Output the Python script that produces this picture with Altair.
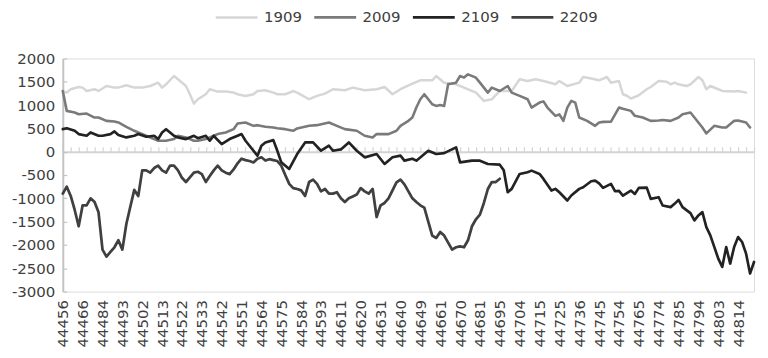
import altair as alt
import pandas as pd

FONT = "DejaVu Sans"
TXT = "#404040"

series_names = ["1909", "2009", "2109", "2209"]
series_colors = ["#d6d6d6", "#7a7a7a", "#222222", "#404040"]
series_widths = [2.5, 2.75, 2.75, 4.5]

x_labels = ["44456", "44466", "44484", "44493", "44502", "44513", "44522", "44533",
            "44542", "44551", "44564", "44575", "44584", "44593", "44611", "44620",
            "44631", "44640", "44649", "44661", "44670", "44681", "44695", "44704",
            "44715", "44725", "44736", "44745", "44754", "44765", "44774", "44785",
            "44794", "44803", "44814"]

x1909 = [0, 1, 2, 4, 5, 6, 8, 9, 11, 13, 14, 16, 18, 20, 22, 24, 25, 26, 28, 29,
         31, 32, 33, 34, 36, 37, 39, 41, 43, 44, 46, 48, 49, 51, 53, 54, 56, 58, 59, 62,
         64, 66, 68, 71, 73, 76, 79, 81, 83, 85, 88, 90, 93, 94, 96, 99, 101, 104, 106, 108,
         110, 113, 115, 117, 119, 121, 124, 125, 127, 130, 131, 133, 135, 137, 138, 140, 141, 142, 143, 145,
         147, 148, 150, 152, 153, 154, 155, 157, 158, 160, 161, 162, 163, 165, 166, 169, 170, 172]
v1909 = [1303, 1268, 1340, 1389, 1375, 1303, 1340, 1303, 1410, 1375, 1375, 1425, 1375, 1375, 1410, 1481, 1375, 1446, 1624, 1553,
         1410, 1233, 1032, 1125, 1233, 1340, 1290, 1290, 1268, 1233, 1197, 1233, 1303, 1318, 1268, 1233, 1233, 1300, 1268, 1126,
         1197, 1247, 1340, 1318, 1375, 1318, 1340, 1389, 1233, 1340, 1460, 1531, 1531, 1624, 1481, 1446, 1375, 1268, 1090, 1125,
         1303, 1303, 1553, 1517, 1553, 1517, 1446, 1517, 1410, 1481, 1603, 1570, 1532, 1603, 1481, 1517, 1233, 1200, 1140, 1211,
         1340, 1389, 1517, 1500, 1446, 1481, 1446, 1410, 1446, 1603, 1532, 1340, 1410, 1340, 1303, 1290, 1303, 1268]

x2009 = [0, 1, 3, 4, 6, 8, 9, 11, 13, 14, 16, 18, 19, 21, 23, 24, 26, 28, 29, 31,
         33, 34, 36, 38, 39, 41, 43, 44, 46, 48, 49, 51, 53, 54, 56, 58, 59, 62, 64, 67,
         69, 71, 74, 76, 78, 79, 82, 84, 85, 87, 88, 89, 90, 91, 93, 94, 95, 96, 97, 99,
         100, 101, 102, 104, 105, 107, 108, 110, 112, 113, 115, 117, 118, 120, 121, 122, 124, 125, 126, 127,
         128, 129, 130, 132, 134, 135, 136, 138, 140, 141, 143, 144, 146, 148, 150, 151, 153, 155, 156, 158,
         160, 161, 162, 164, 166, 167, 169, 170, 172, 173]
v2009 = [1300, 876, 840, 804, 818, 733, 733, 662, 648, 627, 534, 449, 413, 342, 271, 236, 236, 271, 342, 307,
         236, 236, 271, 342, 378, 413, 484, 605, 627, 555, 570, 534, 520, 505, 484, 449, 500, 555, 570, 627,
         555, 484, 449, 342, 307, 378, 378, 449, 555, 662, 733, 947, 1125, 1233, 1018, 983, 1000, 983, 1446, 1481,
         1624, 1590, 1660, 1588, 1481, 1268, 1375, 1303, 1410, 1268, 1197, 1125, 947, 1054, 1080, 947, 769, 800, 662, 947,
         1090, 1054, 733, 662, 555, 627, 640, 645, 947, 920, 876, 769, 733, 662, 670, 680, 662, 733, 804, 840,
         627, 520, 392, 555, 520, 520, 662, 670, 627, 520]

x2109 = [0, 1, 3, 4, 6, 7, 9, 10, 12, 13, 14, 16, 18, 19, 21, 23, 24, 25, 26, 28,
         29, 31, 33, 34, 36, 37, 38, 39, 40, 42, 44, 45, 46, 48, 49, 50, 51, 53, 54, 55,
         57, 59, 61, 63, 65, 67, 68, 70, 72, 74, 76, 79, 81, 83, 85, 86, 88, 89, 92, 94,
         96, 99, 100, 103, 105, 107, 110, 111, 112, 113, 115, 117, 118, 120, 121, 123, 124, 125, 127, 128,
         130, 131, 133, 134, 135, 136, 138, 139, 140, 141, 143, 144, 145, 147, 148, 150, 151, 153, 154, 155,
         156, 158, 159, 160, 161, 162, 163, 165, 166, 167, 168, 169, 170, 171, 172, 173, 174]
v2109 = [484, 505, 449, 378, 342, 413, 342, 342, 378, 434, 360, 307, 342, 378, 320, 342, 271, 413, 484, 342,
         307, 271, 342, 290, 342, 236, 342, 250, 164, 271, 342, 378, 236, 21, -85, 128, 199, 249, 21, -228,
         -370, -50, 199, 199, 21, 128, 21, 50, 199, 21, -121, -50, -263, -120, -85, -192, -150, -192, 21, -50,
         -30, 92, -228, -192, -192, -263, -278, -400, -869, -797, -477, -441, -406, -477, -584, -833, -797, -869, -1047, -940,
         -797, -762, -634, -620, -680, -776, -691, -848, -840, -940, -833, -905, -776, -770, -1011, -976, -1154, -1189, -1118, -1033,
         -1189, -1318, -1474, -1367, -1296, -1617, -1795, -2293, -2472, -2045, -2400, -2045, -1831, -1938, -2187, -2614, -2365]

x2209 = list(range(0, 111))
v2209 = [-900, -750, -950, -1250, -1600, -1150, -1150, -1000, -1080, -1300,
         -2100, -2250, -2150, -2050, -1900, -2100, -1550, -1180, -820, -950,
         -400, -400, -450, -350, -300, -400, -450, -300, -300, -400,
         -560, -650, -550, -450, -430, -480, -650, -520, -400, -300,
         -400, -450, -480, -380, -250, -150, -180, -200, -230, -150,
         -120, -190, -160, -180, -200, -300, -500, -690, -780, -800,
         -830, -950, -650, -600, -690, -850, -800, -900, -900, -870,
         -1000, -1080, -1000, -960, -920, -780, -850, -900, -800, -1400,
         -1150, -1100, -1000, -830, -660, -600, -700, -850, -1000, -1080,
         -1150, -1200, -1500, -1800, -1850, -1720, -1800, -1950, -2100, -2050,
         -2030, -2050, -1900, -1600, -1450, -1350, -1100, -800, -650, -650,
         -580]

rows = []
for name, xs, vs in [("1909", x1909, v1909), ("2009", x2009, v2009),
                     ("2109", x2109, v2109), ("2209", x2209, v2209)]:
    for i, v in zip(xs, vs):
        rows.append({"series": name, "idx": i, "value": v})
df = pd.DataFrame(rows)

W, H = 694, 234
YDOM = [-3000, 2000]
XDOM = [0, 174]
zero_off = H * YDOM[1] / (YDOM[1] - YDOM[0])
yvals = list(range(-3000, 2001, 500))
label_vals = [5 * k for k in range(len(x_labels))]
label_expr = "[" + ",".join("'" + s + "'" for s in x_labels) + "][round(datum.value/5)]"

xscale = alt.Scale(domain=XDOM, nice=False, zero=False)
yscale = alt.Scale(domain=YDOM, nice=False)

legend = alt.Legend(
    orient="none", legendX=152, legendY=-64, direction="horizontal", title=None,
    symbolType="stroke", symbolSize=1764, labelFont=FONT, labelFontSize=15,
    labelColor=TXT, labelOffset=5, columnPadding=6, padding=0,
)

lines = alt.Chart(df).mark_line(strokeJoin="round", strokeCap="round").encode(
    x=alt.X("idx:Q", scale=xscale,
            axis=alt.Axis(values=label_vals, labelExpr=label_expr, labelAngle=-90,
                          ticks=False, domain=False, grid=False, title=None,
                          labelFont=FONT, labelFontSize=15, labelColor=TXT,
                          labelPadding=8, labelOverlap=False)),
    y=alt.Y("value:Q", scale=yscale,
            axis=alt.Axis(values=yvals, labelExpr="'' + datum.value",
                          ticks=False, domain=False, grid=False, title=None,
                          labelFont=FONT, labelFontSize=15, labelColor=TXT,
                          labelPadding=8)),
    color=alt.Color("series:N", scale=alt.Scale(domain=series_names, range=series_colors),
                    legend=legend),
    strokeWidth=alt.StrokeWidth("series:N",
                                scale=alt.Scale(domain=series_names, range=series_widths),
                                legend=legend),
)

axes = alt.Chart(df).mark_point(opacity=0).encode(
    x=alt.X("idx:Q", scale=xscale,
            axis=alt.Axis(orient="top", offset=-zero_off, values=list(range(0, 175, 2)),
                          labels=False, tickSize=5, tickWidth=1.2, tickColor="#d4d4d4",
                          domainColor="#d4d4d4", domainWidth=2, grid=False, title=None)),
    y=alt.Y("value:Q", scale=yscale,
            axis=alt.Axis(orient="right", offset=-W, values=yvals, labels=False,
                          tickSize=4, tickWidth=1.2, tickColor="#c4c4c4",
                          domainColor="#c4c4c4", domainWidth=2, grid=False, title=None)),
)

chart = alt.layer(axes, lines).resolve_axis(x="independent", y="independent").properties(
    width=W, height=H,
    autosize=alt.AutoSizeParams(type="none"),
    padding={"left": 55, "top": 50, "right": 6, "bottom": 58},
).configure_view(stroke=None).configure(background="white")

chart.save("out.html", embed_options={"renderer": "svg", "actions": False})
